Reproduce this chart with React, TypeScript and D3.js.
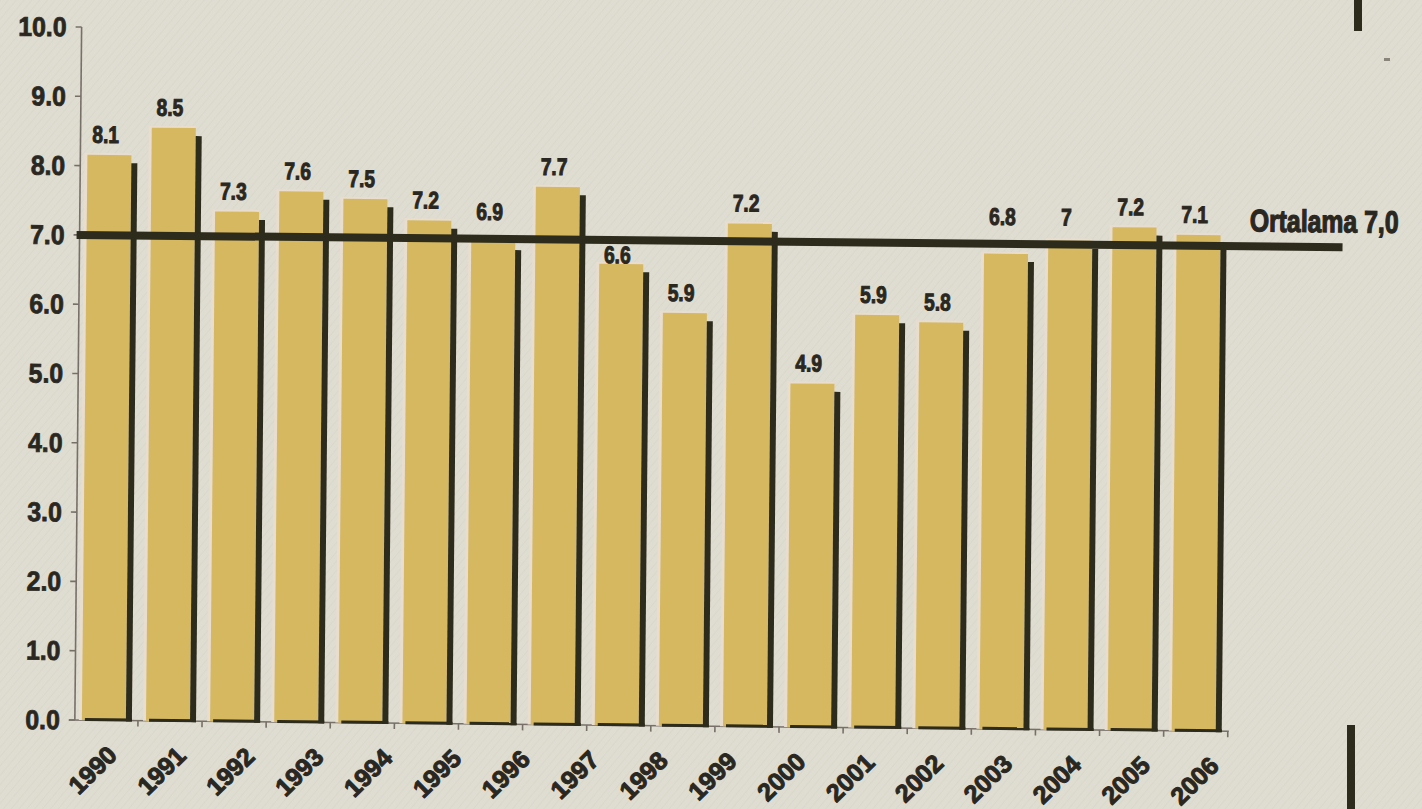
import React from 'react';
import * as d3 from 'd3';

// ---- data ----
const values: number[] = [8.1, 8.5, 7.3, 7.6, 7.5, 7.2, 6.9, 7.7, 6.6, 5.9, 7.2, 4.9, 5.9, 5.8, 6.8, 7, 7.2, 7.1];
const yearLabels: string[] = ['1990', '1991', '1992', '1993', '1994', '1995', '1996', '1997', '1998', '1999', '2000', '2001', '2002', '2003', '2004', '2005', '2006'];
const yTickValues: number[] = [0, 1, 2, 3, 4, 5, 6, 7, 8, 9, 10];
const averageValue = 7.0;
const averageLabel = 'Ortalama 7,0';

// ---- style ----
const BG = '#dfdcd1';
const YELLOW = '#d5b860';
const DARK = '#2d2b1b';
const TEXT = '#2a2721';
const AXIS = '#777069';
const FONT = "'Liberation Sans', Arial, sans-serif";

const W = 1422;
const H = 809;

export default function App() {
  const idx = d3.range(values.length);
  const x = d3.scaleBand<number>().domain(idx).range([78, 1232]).paddingInner(0.22).paddingOuter(0.11);
  const y = d3.scaleLinear().domain([0, 10]).range([725.6, 32.6]);
  const xl = d3.scalePoint<string>().domain(yearLabels).range([122, 1224]);
  const bw = x.bandwidth();
  const shadowW = 6;
  const yellowW = bw - shadowW;
  const step = x.step();
  const fmt = d3.format('.1f');
  const yAvg = y(averageValue);
  const y0 = y(0);
  const axisX = 78;

  const labelY = (v: number) => {
    const def = y(v) - 4 - 12;
    if (v >= averageValue - 0.3 && v <= averageValue + 0.05) return yAvg - 19;
    if (def > yAvg - 6 && def - 17 < yAvg + 4) return yAvg + 23;
    return def;
  };

  return (
    <svg width={W} height={H} style={{ position: 'absolute', left: 0, top: 0, display: 'block' }}>
      <defs>
        <pattern id="tex" width="6" height="6" patternUnits="userSpaceOnUse" patternTransform="rotate(40)">
          <rect width="6" height="6" fill={BG} />
          <line x1="0" y1="0" x2="0" y2="6" stroke="#cbc7ba" strokeWidth="1.4" opacity="0.4" />
        </pattern>
      </defs>
      <rect width={W} height={H} fill="url(#tex)" />

      <g transform="rotate(0.56, 650, 400)">
        {/* y axis */}
        <line x1={axisX} x2={axisX} y1={y(10)} y2={y0} stroke={AXIS} strokeWidth={1.6} />
        {yTickValues.map((t) => (
          <g key={'yt' + t}>
            <line x1={axisX - 6} x2={axisX} y1={y(t)} y2={y(t)} stroke={AXIS} strokeWidth={1.6} />
            <g transform={`translate(63, ${y(t)}) scale(0.92, 1)`}>
              <text
                x={0}
                y={0}
                textAnchor="end"
                dominantBaseline="central"
                fontFamily={FONT}
                fontWeight="bold"
                fontSize={27}
                fill={TEXT}
                stroke={TEXT}
                strokeWidth={0.8}
              >
                {fmt(t)}
              </text>
            </g>
          </g>
        ))}

        {/* x axis */}
        <line x1={axisX - 6} x2={x(values.length - 1)! + bw + step * 0.11} y1={y0} y2={y0} stroke={AXIS} strokeWidth={1.6} />
        {idx.map((i) => {
          const tx = x(i)! + bw + (step - bw) / 2 - 1;
          return <line key={'xt' + i} x1={tx} x2={tx} y1={y0} y2={y0 + 6} stroke={AXIS} strokeWidth={1.6} />;
        })}

        {/* bars */}
        {idx.map((i) => {
          const v = values[i];
          const bx = x(i)!;
          const top = y(v) - 4;
          return (
            <g key={'b' + i}>
              <rect x={bx - 3} y={top - 2} width={yellowW + 3} height={y0 - top + 2} fill="#e8ddcf" />
              <rect x={bx} y={top} width={yellowW} height={y0 - top} fill={YELLOW} />
              <rect x={bx + yellowW} y={y(v) + 4} width={shadowW} height={y0 - y(v) - 4 + 1} fill={DARK} />
              <rect x={bx + 3} y={y0 - 2} width={bw - 3} height={3} fill={DARK} />
            </g>
          );
        })}

        {/* average line */}
        <line x1={75} x2={1341} y1={yAvg} y2={yAvg} stroke={DARK} strokeWidth={8} />
        <g transform={`translate(1248, ${yAvg - 15}) scale(0.8, 1)`}>
          <text x={0} y={0} fontFamily={FONT} fontWeight="bold" fontSize={31} fill={TEXT} stroke={TEXT} strokeWidth={1.2}>
            {averageLabel}
          </text>
        </g>

        {/* value labels */}
        {idx.map((i) => {
          const v = values[i];
          return (
            <g key={'vl' + i} transform={`translate(${x(i)! + yellowW / 2 - 4}, ${labelY(v)}) scale(0.8, 1)`}>
              <text
                x={0}
                y={0}
                textAnchor="middle"
                fontFamily={FONT}
                fontWeight="bold"
                fontSize={24}
                fill={TEXT}
                stroke={TEXT}
                strokeWidth={1}
              >
                {String(v)}
              </text>
            </g>
          );
        })}

        {/* year labels */}
        {yearLabels.map((yr) => (
          <g key={'yl' + yr} transform={`translate(${xl(yr)}, 762) rotate(-45)`}>
            <text
              x={0}
              y={0}
              textAnchor="end"
              fontFamily={FONT}
              fontWeight="bold"
              fontSize={25}
              fill={TEXT}
              stroke={TEXT}
              strokeWidth={1}
            >
              {yr}
            </text>
          </g>
        ))}
      </g>

      {/* page decorations */}
      <rect x={1354} y={-5} width={8} height={36} fill={DARK} />
      <rect x={1347} y={725} width={8} height={90} fill={DARK} />
      <rect x={1384} y={58} width={6} height={3} fill="#8a857a" />
    </svg>
  );
}
